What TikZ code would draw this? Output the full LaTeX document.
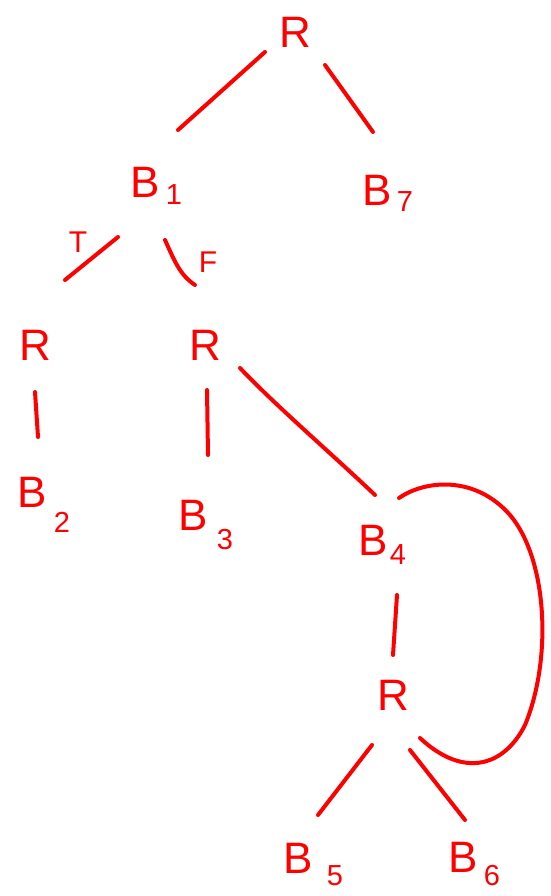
\documentclass[tikz,border=0pt]{standalone}
\usepackage{fontspec}
\setmainfont{Liberation Sans}
\usetikzlibrary{calc}
\definecolor{ink}{RGB}{255,0,0}
\begin{document}
\begin{tikzpicture}[x=1pt,y=-1pt,
  lbl/.style={text=ink,font=\fontsize{44}{44}\selectfont,inner sep=0pt},
  sub/.style={text=ink,font=\fontsize{29}{29}\selectfont,inner sep=0pt},
  tf/.style={text=ink,font=\fontsize{30}{30}\selectfont,inner sep=0pt},
  edge/.style={draw=ink,line width=4pt,line cap=round}]
\useasboundingbox (0,0) rectangle (550,896);
% nodes
\node[lbl] (R0) at (295,32) {R};
\node[lbl] (B1) at (145,182) {B};
\node[sub] (s1) at (174,195) {1};
\node[lbl] (B7) at (377,190) {B};
\node[sub] (s7) at (405,202) {7};
\node[tf] (T) at (78,242) {T};
\node[tf] (F) at (208,262) {F};
\node[lbl] (RL) at (35,345) {R};
\node[lbl] (RM) at (205,345) {R};
\node[lbl] (B2) at (32,492) {B};
\node[sub] (s2) at (62,522) {2};
\node[lbl] (B3) at (193,515) {B};
\node[sub] (s3) at (225,540) {3};
\node[lbl] (B4) at (373,540) {B};
\node[sub] (s4) at (398,555) {4};
\node[lbl] (RB) at (393,695) {R};
\node[lbl] (B5) at (298,858) {B};
\node[sub] (s5) at (335,876) {5};
\node[lbl] (B6) at (463,857) {B};
\node[sub] (s6) at (492,876) {6};
% connectors
\draw[edge] ($(R0)+(-30,20)$) -- ($(B1)+(33,-52)$);
\draw[edge] ($(R0)+(30,33)$) -- ($(B7)+(-4,-58)$);
\draw[edge] ($(B1)+(-27,55)$) -- ($(RL)+(30,-65)$);
\draw[edge] ($(B1)+(20,58)$) .. controls ($(B1)+(30,80)$) and ($(RM)+(-25,-70)$) .. ($(RM)+(-10,-60)$);
\draw[edge] ($(RL)+(0,47)$) -- ($(B2)+(6,-55)$);
\draw[edge] ($(RM)+(2,45)$) -- ($(B3)+(15,-60)$);
\draw[edge] ($(RM)+(35,23)$) .. controls ($(RM)+(70,60)$) and ($(B4)+(-40,-85)$) .. ($(B4)+(2,-45)$);
\draw[edge] ($(B4)+(24,55)$) -- ($(RB)+(0,-40)$);
\draw[edge] ($(RB)+(-21,50)$) -- ($(B5)+(20,-43)$);
\draw[edge] ($(RB)+(17,55)$) -- ($(B6)+(2,-37)$);
\draw[edge] ($(B4)+(26,-42)$) .. controls (425,480) and (475,475) .. (510,515)
  .. controls (548,560) and (552,660) .. (525,725)
  .. controls (505,765) and (465,780) .. ($(RB)+(27,43)$);
\end{tikzpicture}
\end{document}
